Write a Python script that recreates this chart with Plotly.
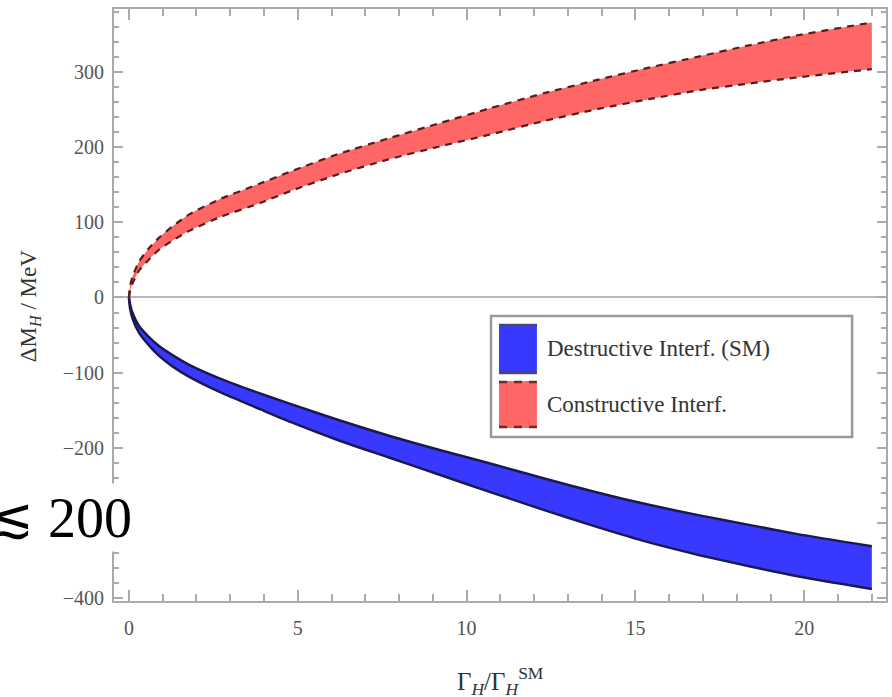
import plotly.graph_objects as go

# Γ_H / Γ_H^SM sample points
ratio = [0, 0.03, 0.1, 0.3, 0.6, 0.9, 1.3, 1.8, 2.7, 3.9, 4.8, 6.2, 7.7,
         9.2, 10.7, 12.3, 13.9, 15.4, 16.9, 18.4, 19.8, 22]

# constructive interference band (MeV)
cons_upper = [0, 15, 27, 48, 66, 80, 95, 111, 131, 152, 168, 191, 212,
              232, 252, 272, 290, 306, 321, 336, 349, 366]
cons_lower = [0, 8, 18, 36, 51, 64, 76, 89, 107, 126, 142, 164, 184,
              201, 217, 235, 251, 264, 276, 285, 293, 304]

# destructive interference band (SM), MeV
dest_upper = [0, -8, -20, -38, -53, -65, -77, -90, -108, -128, -142, -163, -184,
              -203, -221, -241, -260, -276, -290, -303, -315, -331]
dest_lower = [0, -14, -27, -47, -64, -78, -92, -106, -126, -149, -166, -190, -213,
              -236, -259, -283, -306, -326, -343, -358, -371, -388]

x_ticks = [0, 5, 10, 15, 20]
y_ticks = [-400, -300, -200, -100, 0, 100, 200, 300]
# the -300 label sits under the inline bound text, so it is left blank
y_tick_text = ["\u2212400", "", "\u2212200", "\u2212100", "0", "100", "200", "300"]

legend_labels = ["Destructive Interf. (SM)", "Constructive Interf."]

RED = "#ff6666"
RED_EDGE = "#5a1c1c"
BLUE = "#3838ff"
BLUE_EDGE = "#1a1a4e"
AXIS = "#aaaaaa"
SERIF = "Liberation Serif, Times New Roman, serif"

W, H = 892, 697
L, R, T, B = 114, 4, 9, 96
PW, PH = W - L - R, H - T - B


def px(xp):
    return (xp - L) / PW


def py(yp):
    return (H - B - yp) / PH


fig = go.Figure()

# destructive band
fig.add_trace(go.Scatter(x=ratio, y=dest_upper, mode="lines",
                         line=dict(color=BLUE_EDGE, width=2.5, shape="spline", smoothing=0.6),
                         showlegend=False, hoverinfo="skip"))
fig.add_trace(go.Scatter(x=ratio, y=dest_lower, mode="lines", fill="tonexty",
                         fillcolor=BLUE,
                         line=dict(color=BLUE_EDGE, width=2.5, shape="spline", smoothing=0.6),
                         showlegend=False, hoverinfo="skip"))

# constructive band
fig.add_trace(go.Scatter(x=ratio, y=cons_lower, mode="lines",
                         line=dict(color=RED_EDGE, width=2.2, dash="7px,6px",
                                   shape="spline", smoothing=0.6),
                         showlegend=False, hoverinfo="skip"))
fig.add_trace(go.Scatter(x=ratio, y=cons_upper, mode="lines", fill="tonexty",
                         fillcolor=RED,
                         line=dict(color=RED_EDGE, width=2.2, dash="7px,6px",
                                   shape="spline", smoothing=0.6),
                         showlegend=False, hoverinfo="skip"))

tick_font = dict(family=SERIF, size=20, color="#555555")

fig.update_xaxes(
    range=[-0.443, 22.42], showgrid=False, zeroline=False,
    showline=True, linecolor=AXIS, linewidth=2, mirror="ticks",
    ticks="inside", ticklen=11, tickwidth=1.5, tickcolor=AXIS,
    tickvals=x_ticks, tickfont=tick_font, ticklabelstandoff=8,
    minor=dict(dtick=1, ticks="inside", ticklen=7, tickwidth=1.5, tickcolor=AXIS),
)
fig.update_yaxes(
    range=[-404, 384], showgrid=False,
    zeroline=True, zerolinecolor="#b8b8b8", zerolinewidth=2,
    showline=True, linecolor=AXIS, linewidth=2, mirror="ticks",
    ticks="inside", ticklen=9, tickwidth=1.5, tickcolor=AXIS,
    tickvals=y_ticks, ticktext=y_tick_text, tickfont=tick_font, ticklabelstandoff=4,
    minor=dict(dtick=20, ticks="inside", ticklen=5, tickwidth=1.5, tickcolor=AXIS),
)

shapes = []
# legend frame
shapes.append(dict(type="rect", xref="paper", yref="paper",
                   x0=px(492), x1=px(854), y0=py(437), y1=py(316),
                   line=dict(color="#999999", width=2.5), fillcolor="white"))
# destructive swatch
shapes.append(dict(type="rect", xref="paper", yref="paper",
                   x0=px(500), x1=px(538), y0=py(374), y1=py(324),
                   line=dict(width=0), fillcolor=BLUE))
for yy in (325, 373):
    shapes.append(dict(type="line", xref="paper", yref="paper",
                       x0=px(500), x1=px(538), y0=py(yy), y1=py(yy),
                       line=dict(color="#4a4a70", width=2.5)))
# constructive swatch
shapes.append(dict(type="rect", xref="paper", yref="paper",
                   x0=px(500), x1=px(538), y0=py(428), y1=py(381),
                   line=dict(width=0), fillcolor=RED))
for yy in (382, 427):
    shapes.append(dict(type="line", xref="paper", yref="paper",
                       x0=px(500), x1=px(538), y0=py(yy), y1=py(yy),
                       line=dict(color="#6e2a2a", width=2.5, dash="8px,7px")))

annotations = [
    dict(text=legend_labels[0], xref="paper", yref="paper", x=px(546), y=py(348),
         xanchor="left", yanchor="middle", showarrow=False,
         font=dict(family=SERIF, size=23, color="#333333")),
    dict(text=legend_labels[1], xref="paper", yref="paper", x=px(546), y=py(404),
         xanchor="left", yanchor="middle", showarrow=False,
         font=dict(family=SERIF, size=23, color="#333333")),
    # axis titles
    dict(text="\u0393<sub><i>H</i></sub>/\u0393<sub><i>H</i></sub><sup>SM</sup>",
         xref="paper", yref="paper", x=px(501), y=py(681),
         xanchor="center", yanchor="middle", showarrow=False,
         font=dict(family=SERIF, size=25, color="#333333")),
    dict(text="\u0394M<sub><i>H</i></sub> / MeV", textangle=-90,
         xref="paper", yref="paper", x=px(30), y=py(306),
         xanchor="center", yanchor="middle", showarrow=False,
         font=dict(family=SERIF, size=23, color="#333333")),
    # inline bound
    dict(text="<span style='font-family:DejaVu Serif'>\u2272</span> 200",
         xref="paper", yref="paper", x=px(134), y=py(517),
         xanchor="right", yanchor="middle", showarrow=False, bgcolor="white",
         font=dict(family=SERIF, size=56, color="black")),
]

fig.update_layout(
    width=W, height=H, margin=dict(l=L, r=R, t=T, b=B),
    plot_bgcolor="white", paper_bgcolor="white",
    showlegend=False, shapes=shapes, annotations=annotations,
)

fig.write_html("out.html")
